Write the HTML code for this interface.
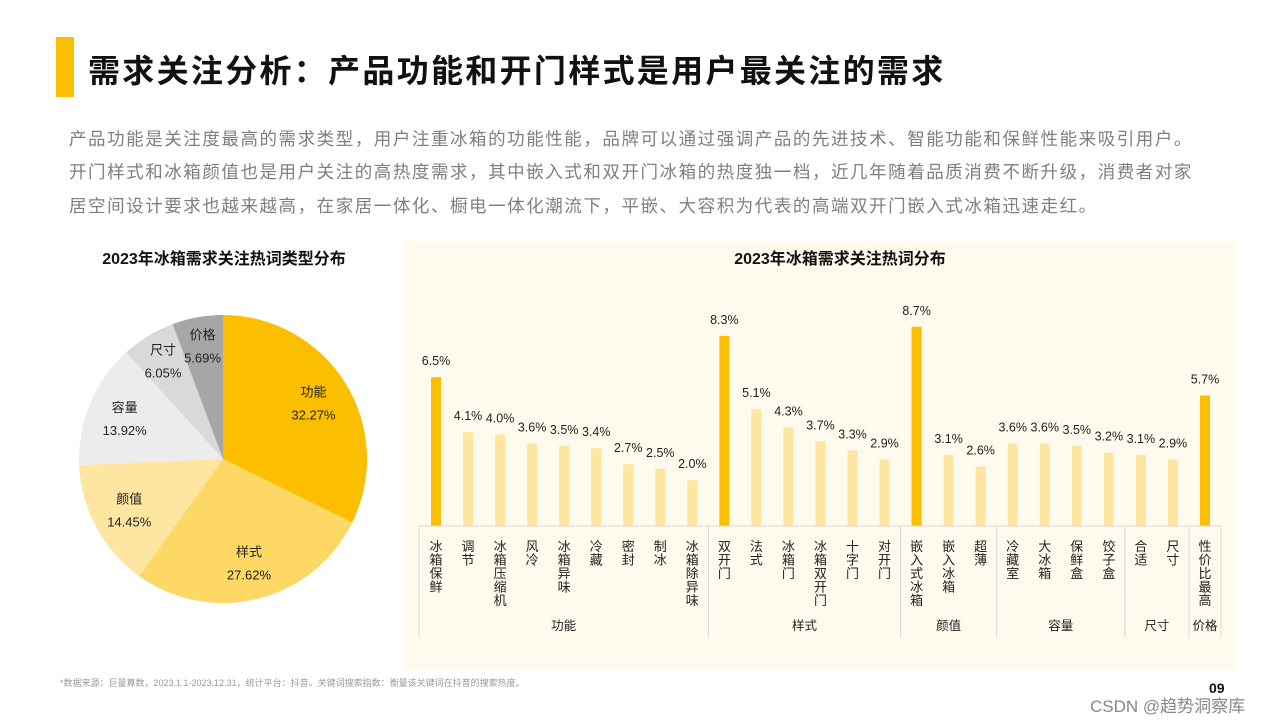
<!DOCTYPE html>
<html><head><meta charset="utf-8">
<style>
body{margin:0;width:1281px;height:722px;background:#fff;position:relative;overflow:hidden;font-family:"Liberation Sans","Noto Sans CJK SC",sans-serif;}
.abs{position:absolute;}
#title{left:88px;top:46px;font-size:32px;font-weight:bold;color:#111;white-space:nowrap;letter-spacing:2.3px;}
.para{left:69px;font-size:17.5px;color:#7f7f7f;white-space:nowrap;letter-spacing:1.55px;}
</style></head><body>
<div class="abs" style="left:56px;top:37px;width:18px;height:60px;background:#fbbf00"></div>
<div class="abs" id="title">需求关注分析：产品功能和开门样式是用户最关注的需求</div>
<div class="abs para" style="top:126px">产品功能是关注度最高的需求类型，用户注重冰箱的功能性能，品牌可以通过强调产品的先进技术、智能功能和保鲜性能来吸引用户。</div>
<div class="abs para" style="top:159px">开门样式和冰箱颜值也是用户关注的高热度需求，其中嵌入式和双开门冰箱的热度独一档，近几年随着品质消费不断升级，消费者对家</div>
<div class="abs para" style="top:193px">居空间设计要求也越来越高，在家居一体化、橱电一体化潮流下，平嵌、大容积为代表的高端双开门嵌入式冰箱迅速走红。</div>
<div class="abs" style="left:404px;top:241px;width:832px;height:429px;background:#fefaed"></div>
<svg class="abs" style="left:0;top:0" width="1281" height="722" id="svg">
<text x="224" y="264" text-anchor="middle" font-size="16" font-weight="bold" fill="#111">2023年冰箱需求关注热词类型分布</text>
<text x="840" y="264" text-anchor="middle" font-size="16" font-weight="bold" fill="#111">2023年冰箱需求关注热词分布</text>
<g id="pie"></g><g id="bars"></g>
</svg>
<div class="abs" style="left:60px;top:676px;font-size:9px;color:#999;white-space:nowrap">*数据来源：巨量算数，2023.1.1-2023.12.31，统计平台：抖音。关键词搜索指数：衡量该关键词在抖音的搜索热度。</div>
<div class="abs" style="left:1209px;top:680px;font-size:14px;font-weight:bold;color:#111">09</div>
<div class="abs" style="left:1090px;top:692px;font-size:17px;color:#888;white-space:nowrap">CSDN @趋势洞察库</div>
<script>
const pieLabels=["功能","样式","颜值","容量","尺寸","价格"];
const pieValues=[32.27,27.62,14.45,13.92,6.05,5.69];
const pieColors=["#fbbf00","#fdd865","#fee6a0","#ececec","#d9d9d9","#a6a6a6"];
const groups=["功能","样式","颜值","容量","尺寸","价格"];
const groupSizes=[9,6,3,4,2,1];
const cats=["冰箱保鲜","调节","冰箱压缩机","风冷","冰箱异味","冷藏","密封","制冰","冰箱除异味","双开门","法式","冰箱门","冰箱双开门","十字门","对开门","嵌入式冰箱","嵌入冰箱","超薄","冷藏室","大冰箱","保鲜盒","饺子盒","合适","尺寸","性价比最高"];
const vals=[6.5,4.1,4.0,3.6,3.5,3.4,2.7,2.5,2.0,8.3,5.1,4.3,3.7,3.3,2.9,8.7,3.1,2.6,3.6,3.6,3.5,3.2,3.1,2.9,5.7];
const highlight=[0,9,15,24];
const NS="http://www.w3.org/2000/svg";
function mk(t,a,p){const e=document.createElementNS(NS,t);for(const k in a)e.setAttribute(k,a[k]);p.appendChild(e);return e;}
const pg=document.getElementById('pie');
const cx=223,cy=459,R=144;
const tot=pieValues.reduce((a,b)=>a+b,0);
let a0=0;
pieValues.forEach((v,i)=>{
 const a1=a0+v/tot*2*Math.PI;
 const x0=cx+R*Math.sin(a0),y0=cy-R*Math.cos(a0),x1=cx+R*Math.sin(a1),y1=cy-R*Math.cos(a1);
 const p=mk('path',{d:`M${cx},${cy}L${x0},${y0}A${R},${R} 0 ${a1-a0>Math.PI?1:0} 1 ${x1},${y1}Z`,fill:pieColors[i]},pg);
 
 
 const am=(a0+a1)/2,rr=R*(i>=4?0.8:0.74);
 const lx=cx+rr*Math.sin(am),ly=cy-rr*Math.cos(am);
 const t1=mk('text',{x:lx,y:ly-6,'text-anchor':'middle','font-size':13,fill:'#222'},pg);t1.textContent=pieLabels[i];
 
 
 const t2=mk('text',{x:lx,y:ly+17,'text-anchor':'middle','font-size':13,fill:'#222'},pg);t2.textContent=v.toFixed(2)+'%';
 
 
 a0=a1;
});
const bg=document.getElementById('bars');
const base=526,pxPer=22.9,x0b=436,step=32.04,bw=10;
const xOf=i=>x0b+i*step, yOf=v=>base-v*pxPer;
vals.forEach((v,i)=>{
 const r=mk('rect',{x:xOf(i)-bw/2,y:yOf(v),width:bw,height:base-yOf(v),fill:highlight.includes(i)?'#fbbf00':'#fee6a0'},bg);
 
 
 const t=mk('text',{x:xOf(i),y:yOf(v)-12,'text-anchor':'middle','font-size':12.5,fill:'#222'},bg);t.textContent=v.toFixed(1)+'%';
 
 
 [...cats[i]].forEach((c,k)=>{
  const tc=mk('text',{x:xOf(i),y:551+k*13.5,'text-anchor':'middle','font-size':13,fill:'#222'},bg);tc.textContent=c;
  
  
 });
});
const ax=mk('line',{x1:419,x2:1221,y1:base,y2:base,stroke:'#d9d9d9','stroke-width':1},bg);


let start=0;
const bounds=[419];
groupSizes.forEach((n,g)=>{
 const end=start+n;
 const xr=g==groupSizes.length-1?1221:(xOf(end-1)+xOf(end))/2;
 bounds.push(xr);
 const xl=bounds[g];
 const t=mk('text',{x:(xl+xr)/2,y:630,'text-anchor':'middle','font-size':12.5,fill:'#222'},bg);t.textContent=groups[g];
 
 
 start=end;
});
bounds.forEach(x=>{
 const l=mk('line',{x1:x,x2:x,y1:base,y2:638,stroke:'#d9d9d9','stroke-width':1},bg);
 
 
});
</script>
</body></html>
